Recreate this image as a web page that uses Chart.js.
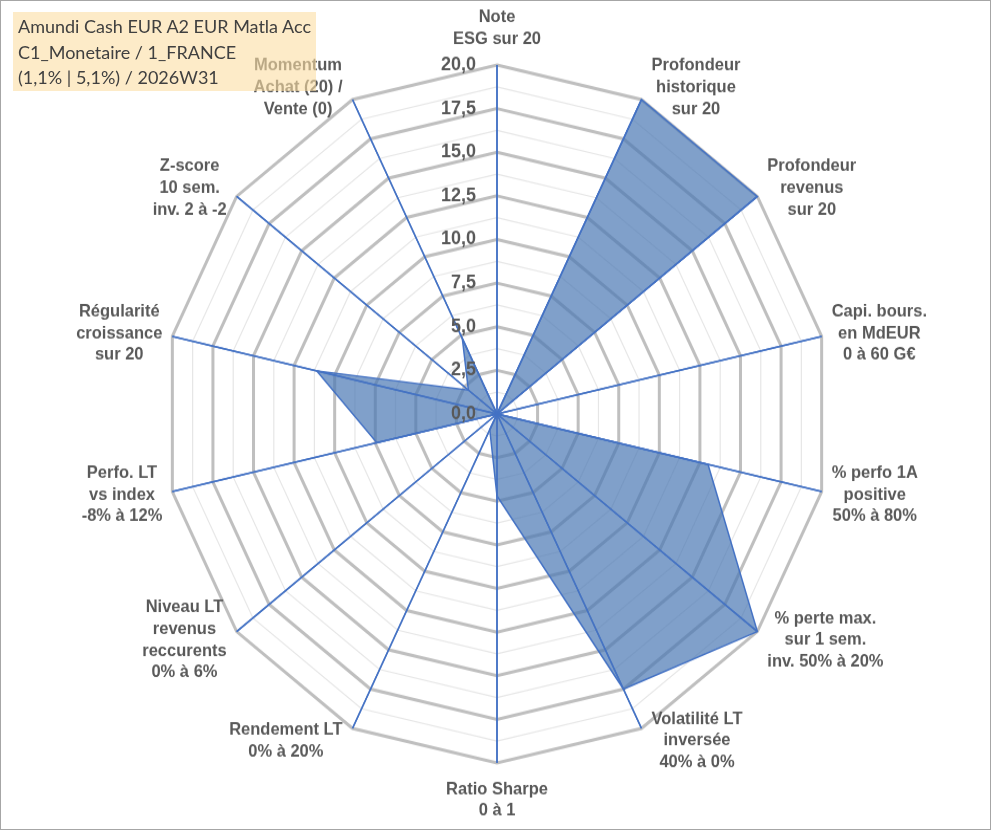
<!DOCTYPE html>
<html lang="fr">
<head>
<meta charset="utf-8">
<title>Amundi Cash EUR A2 EUR Matla Acc</title>
<script src="https://cdn.jsdelivr.net/npm/chart.js@4.4.1/dist/chart.umd.min.js"></script>
<style>
  html, body { margin: 0; padding: 0; background: #fff; }
  #frame { position: relative; width: 991px; height: 830px; overflow: hidden; background: #fff; }
  /* the source picture is a bit taller than wide, so the round chart is stretched */
  #stretch { position: absolute; left: 0; top: 0; width: 991px; height: 792px;
             transform: scaleY(1.048); transform-origin: 0 0; }
  #title { position: absolute; left: 13px; top: 12px; width: 303px; height: 79px;
           padding: 2px 0 0 5px; box-sizing: border-box;
           background: rgba(252, 222, 163, 0.6);
           font-family: Lato, "Open Sans", sans-serif; font-size: 18px; line-height: 25.5px;
           color: #404040; white-space: nowrap; }
  #border { position: absolute; left: 0; top: 0; right: 0; bottom: 0;
            border: 1px solid #a6a6a6; pointer-events: none; }
</style>
</head>
<body>
<div id="frame">
  <div id="stretch"><canvas id="radar" width="991" height="792"></canvas></div>
  <div id="title"></div>
  <div id="border"></div>
</div>
<script>
  const titleLines = [
    'Amundi Cash EUR A2 EUR Matla Acc',
    'C1_Monetaire / 1_FRANCE',
    '(1,1% | 5,1%) / 2026W31'
  ];

  const axisLabels = [
    ['Note', 'ESG sur 20'],
    ['Profondeur', 'historique', 'sur 20'],
    ['Profondeur', 'revenus', 'sur 20'],
    ['Capi. bours.', 'en MdEUR', '0 à 60 G€'],
    ['% perfo 1A', 'positive', '50% à 80%'],
    ['% perte max.', 'sur 1 sem.', 'inv. 50% à 20%'],
    ['Volatilité LT', 'inversée', '40% à 0%'],
    ['Ratio Sharpe', '0 à 1'],
    ['Rendement LT', '0% à 20%'],
    ['Niveau LT', 'revenus', 'reccurents', '0% à 6%'],
    ['Perfo. LT', 'vs index', '-8% à 12%'],
    ['Régularité', 'croissance', 'sur 20'],
    ['Z-score', '10 sem.', 'inv. 2 à -2'],
    ['Momentum', 'Achat (20) /', 'Vente (0)']
  ];

  const scores = [0, 20, 20, 0, 13, 20, 17.5, 4.7, 1, 0, 7.4, 11.1, 2.2, 4.8];

  const majorTicks = [0, 2.5, 5, 7.5, 10, 12.5, 15, 17.5, 20];

  const TEXT = '#595959';
  const SPOKE = '#4472C4';
  const LINE_H = 20.7;

  document.getElementById('title').innerHTML = titleLines.join('<br>');

  function tickText(v) {
    return v.toLocaleString('fr-FR', { minimumFractionDigits: 1, maximumFractionDigits: 1 });
  }

  // spokes over the fill, then the axis names and the tick values
  const axisText = {
    id: 'axisText',
    afterDatasetsDraw(chart) {
      const scale = chart.scales.r;
      const ctx = chart.ctx;
      ctx.save();

      ctx.strokeStyle = SPOKE;
      ctx.lineWidth = 1.5;
      axisLabels.forEach((lines, i) => {
        const p = scale.getPointPosition(i, scale.drawingArea);
        ctx.beginPath();
        ctx.moveTo(scale.xCenter, scale.yCenter);
        ctx.lineTo(p.x, p.y);
        ctx.stroke();
      });

      ctx.font = 'bold 16.5px "Liberation Sans", Arial, sans-serif';
      ctx.fillStyle = TEXT;
      ctx.textAlign = 'center';
      ctx.textBaseline = 'middle';
      axisLabels.forEach((lines, i) => {
        const p = scale.getPointPosition(i, scale.drawingArea);
        const s = Math.cos(p.angle);   // sine of the angle from the top, clockwise
        const c = -Math.sin(p.angle);  // cosine of it
        const w = Math.max(...lines.map((l) => ctx.measureText(l).width));
        const h = (lines.length - 1) * LINE_H;
        let cx, y0;
        if (Math.abs(s) < 0.05) {
          cx = p.x;
          y0 = c > 0 ? p.y - 25 - h : p.y + 25;
        } else {
          cx = p.x + Math.sign(s) * (10 + w / 2);
          y0 = p.y - c * 13 - h / 2;
        }
        lines.forEach((l, k) => ctx.fillText(l, cx, y0 + k * LINE_H));
      });

      ctx.font = 'bold 18px "Liberation Sans", Arial, sans-serif';
      ctx.textAlign = 'right';
      majorTicks.forEach((v) => {
        const y = scale.yCenter - scale.getDistanceFromCenterForValue(v);
        ctx.fillText(tickText(v), scale.xCenter - 21, y);
      });

      ctx.restore();
    }
  };

  new Chart(document.getElementById('radar'), {
    type: 'radar',
    data: {
      labels: axisLabels,
      datasets: [{
        data: scores,
        backgroundColor: 'rgba(74, 120, 180, 0.7)',
        borderColor: SPOKE,
        borderWidth: 1.5,
        pointRadius: 0,
        pointHoverRadius: 0,
        fill: true
      }]
    },
    options: {
      responsive: false,
      animation: false,
      layout: { padding: { left: 164, right: 161, top: 62, bottom: 64 } },
      plugins: { legend: { display: false }, tooltip: { enabled: false } },
      scales: {
        r: {
          min: 0,
          max: 20,
          ticks: { stepSize: 1.25, display: false },
          pointLabels: { display: false },
          angleLines: { display: true, color: SPOKE, lineWidth: 1.5 },
          grid: {
            circular: false,
            color: (c) => (c.tick && c.tick.value % 2.5 === 0 ? '#BFBFBF' : '#E6E6E6'),
            lineWidth: (c) => (c.tick && c.tick.value % 2.5 === 0 ? 3 : 1.2)
          }
        }
      }
    },
    plugins: [axisText]
  });
</script>
</body>
</html>
